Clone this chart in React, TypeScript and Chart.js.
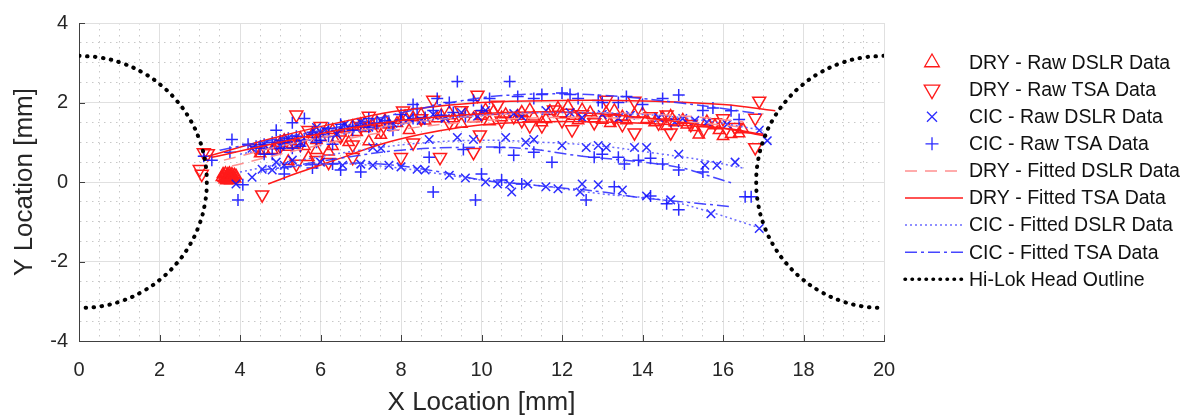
import React, { useEffect, useRef } from 'react';
import { Chart, registerables } from 'chart.js';

Chart.register(...registerables);

// ---------- tick labels ----------
const xTickLabels = ['0', '2', '4', '6', '8', '10', '12', '14', '16', '18', '20'];
const yTickLabels = ['-4', '-2', '0', '2', '4'];

// ---------- raw data [x, y] in mm ----------
const dryRawDslr: number[][] = [
  [3.55, 0.12], [3.6, 0.18], [3.62, 0.06], [3.66, 0.12], [3.7, 0.2], [3.72, 0.08], [3.75, 0.15],
  [3.78, 0.1], [3.8, 0.2], [3.84, 0.12], [3.88, 0.08], [3.68, 0.16],
  [3.58, 0.2], [3.64, 0.22], [3.7, 0.1], [3.74, 0.22], [3.82, 0.06], [3.86, 0.18], [3.9, 0.16],
  [3.6, 0.1], [3.66, 0.04], [3.76, 0.04], [3.8, 0.14], [3.72, 0.14],
  [4.6, 0.8], [4.9, 0.92], [5.1, 1.05], [5.3, 0.95], [5.5, 1.1], [5.8, 1.2], [6.0, 1.12], [6.3, 1.3],
  [6.5, 1.24], [6.8, 1.4], [7.1, 1.35], [7.4, 1.5], [7.7, 1.44], [8.0, 1.56], [8.3, 1.62], [8.6, 1.54],
  [9.0, 1.68], [9.3, 1.6], [9.6, 1.72], [10.0, 1.66], [10.3, 1.78], [10.6, 1.7], [11.0, 1.76], [11.3, 1.64],
  [11.7, 1.78], [12.0, 1.7], [12.15, 1.91], [12.5, 1.82], [12.8, 1.6], [13.1, 1.74], [13.5, 1.64], [13.8, 1.7],
  [14.1, 1.58], [14.5, 1.62], [14.8, 1.5], [15.1, 1.44], [15.4, 1.19], [15.6, 1.52], [15.9, 1.3], [16.0, 1.15],
  [16.2, 1.2], [16.5, 1.32], [5.2, 0.52], [5.7, 0.62], [6.2, 0.76], [7.2, 1.02], [8.2, 1.3], [9.5, 1.46],
  [11.5, 1.5], [13.2, 1.48], [14.6, 1.4], [10.2, 1.52], [12.4, 1.55],
  [4.5, 0.72], [4.8, 0.8], [5.0, 0.98], [5.2, 0.88], [5.4, 1.02], [5.6, 0.9], [5.9, 1.05], [6.1, 1.22],
  [6.4, 1.1], [6.6, 1.35], [6.9, 1.25], [7.0, 1.45], [7.3, 1.42], [7.6, 1.55], [7.9, 1.48], [8.1, 1.65],
  [8.5, 1.7], [8.9, 1.6], [9.2, 1.75], [9.8, 1.6], [10.1, 1.82], [10.5, 1.62], [10.9, 1.66], [11.2, 1.82],
  [11.6, 1.58], [11.9, 1.86], [12.3, 1.66], [12.7, 1.75], [13.0, 1.56], [13.3, 1.8], [13.6, 1.55], [14.0, 1.72],
  [14.3, 1.5], [14.7, 1.66], [15.0, 1.56], [15.3, 1.38], [15.8, 1.42], [16.4, 1.22], [6.3, 0.9], [6.7, 1.0],
  [7.5, 1.18], [5.9, 0.8],
];

const dryRawTsa: number[][] = [
  [3.1, 0.74], [3.2, 0.72], [3.0, 0.32], [3.05, 0.2], [4.55, -0.32], [5.4, 1.69], [5.4, 0.45], [5.9, 0.55],
  [5.7, 1.3], [6.8, 0.94], [6.8, 0.62], [7.2, 1.66], [8.05, 1.79], [8.0, 0.62], [8.3, 0.99], [8.8, 2.06],
  [8.97, 0.62], [9.8, 0.75], [9.96, 1.19], [9.9, 2.19], [10.4, 1.94], [10.5, 1.54], [11.2, 1.42], [11.5, 1.42],
  [12.25, 1.32], [13.1, 2.06], [13.8, 2.04], [13.8, 1.24], [14.4, 1.49], [14.6, 1.69], [14.7, 1.24], [16.9, 2.04],
  [16.8, 1.61], [16.8, 0.87], [6.0, 1.4], [7.5, 1.3], [9.2, 1.5], [10.8, 1.65], [12.0, 1.55], [12.8, 1.5],
  [13.3, 1.6], [15.2, 1.45], [15.8, 1.5], [16.3, 1.38], [5.0, 0.9], [4.4, 0.85], [11.8, 1.82], [9.5, 1.8],
  [7.0, 1.4], [8.5, 1.6], [10.0, 1.7], [11.0, 1.55], [12.5, 1.7], [13.5, 1.45], [14.2, 1.65], [15.5, 1.3],
  [16.0, 1.6], [5.5, 0.95], [6.5, 1.15], [6.2, 0.5],
];

const cicRawDslr: number[][] = [
  [4.3, 0.85], [4.6, 0.95], [5.2, 1.1], [5.9, 1.37], [6.1, 1.3], [6.6, 1.45], [7.0, 1.5], [7.5, 1.55],
  [8.2, 1.6], [8.8, 1.7], [9.5, 1.75], [10.1, 1.8], [10.8, 1.72], [11.6, 1.8], [12.2, 1.75], [13.0, 1.7],
  [13.7, 1.68], [14.4, 1.62], [15.0, 1.6], [15.6, 1.5], [16.1, 1.45], [16.9, 1.3], [17.1, 1.04],
  [4.3, 0.12], [4.55, 0.32], [4.9, 0.5], [5.3, 0.55], [6.55, 0.42], [7.3, 0.87], [7.5, 0.85], [8.7, 1.07],
  [9.4, 1.12], [9.8, 1.07], [10.6, 1.12], [11.1, 1.0], [11.3, 1.07], [12.0, 0.92], [12.6, 0.87], [12.9, 0.92],
  [13.1, 0.87], [13.8, 0.87], [14.1, 0.87], [14.9, 0.7], [15.55, 0.42], [15.85, 0.42], [16.3, 0.5],
  [3.9, -0.05], [7.3, 0.42], [7.7, 0.42], [8.4, 0.32], [9.2, 0.17], [10.1, 0.0], [10.4, -0.05], [10.7, -0.05],
  [10.75, -0.25], [11.15, -0.05], [11.6, -0.12], [11.9, -0.17], [12.5, -0.05], [12.45, -0.25], [12.9, -0.07],
  [13.5, -0.2], [14.1, -0.35], [14.7, -0.45], [15.7, -0.8], [16.9, -1.17],
  [5.0, 0.9], [5.5, 1.0], [6.4, 1.2], [7.2, 1.38], [7.8, 1.48], [8.5, 1.55], [9.1, 1.6], [9.9, 1.65],
  [11.0, 1.65], [12.5, 1.62], [13.4, 1.6], [14.8, 1.5], [15.3, 1.55], [4.8, 0.3], [5.1, 0.42], [6.0, 0.5],
  [7.0, 0.45], [8.0, 0.38], [8.6, 0.3], [9.6, 0.1],
];

const cicRawTsa: number[][] = [
  [3.1, 0.65], [3.8, 1.07], [3.75, 0.75], [4.5, 0.85], [4.9, 1.3], [5.1, 1.0], [5.3, 1.49], [5.6, 1.6],
  [5.8, 1.2], [6.2, 1.35], [6.5, 1.45], [6.8, 1.3], [7.2, 1.6], [7.6, 1.55], [8.0, 1.7], [8.4, 1.85],
  [8.8, 1.8], [9.2, 2.0], [9.4, 2.53], [9.8, 2.05], [10.2, 2.1], [10.7, 2.53], [10.9, 2.15], [11.5, 2.2],
  [12.0, 2.24], [12.4, 2.1], [12.9, 2.05], [13.4, 2.0], [14.0, 1.95], [14.9, 2.19], [15.5, 1.8], [15.75, 1.86],
  [16.2, 1.79], [16.4, 1.57], [5.0, 0.85], [5.5, 0.9], [6.0, 1.05], [6.3, 0.95], [4.8, 0.7],
  [4.07, -0.07], [5.1, 0.2], [7.0, 0.25], [8.7, 0.62], [9.55, 0.82], [10.45, 0.87], [10.8, 0.67], [11.3, 0.75],
  [11.75, 0.5], [12.8, 0.62], [13.0, 0.7], [13.4, 0.62], [13.55, 0.45], [13.9, 0.55], [14.2, 0.6], [14.5, 0.45],
  [14.9, 0.3], [15.5, 0.25], [16.55, -0.37], [16.7, -0.37], [6.3, 0.45], [6.5, 0.3],
  [3.95, -0.45], [8.8, -0.25], [9.85, -0.45], [10.0, 0.2], [10.5, 0.05], [11.0, -0.05], [12.6, -0.45],
  [13.3, -0.12], [14.2, -0.35], [14.9, -0.7], [14.6, -0.55], [5.8, 0.35],
  [4.4, 0.9], [4.6, 0.95], [4.8, 1.0], [5.0, 1.05], [5.2, 1.1], [5.4, 1.15], [5.6, 1.05], [5.8, 1.25],
  [6.0, 1.2], [6.2, 1.15], [6.4, 1.3], [6.6, 1.35], [6.8, 1.4], [7.0, 1.42], [7.2, 1.38], [7.4, 1.48],
  [7.7, 1.5], [8.0, 1.55], [8.3, 1.6], [8.6, 1.62], [9.0, 1.68], [9.3, 1.75], [9.6, 1.65], [10.0, 1.8],
  [5.3, 0.85], [4.6, 0.7], [5.9, 1.0], [7.8, 1.3], [3.3, 0.55], [4.2, 0.95],
  [8.3, 1.95], [8.9, 2.1], [11.3, 2.1], [12.2, 2.2], [13.0, 2.0], [13.6, 2.15], [14.5, 2.1],
];

// ---------- fitted curves ----------
const dryFitDslr: number[][][] = [
  [[3.6, 0.55], [5, 0.9], [7, 1.3], [9, 1.58], [11, 1.72], [13, 1.74], [15, 1.66], [16.5, 1.52]],
  [[3.8, 0.4], [5, 0.7], [7, 1.15], [9, 1.45], [11, 1.6], [13, 1.62], [15, 1.52], [16.5, 1.38]],
];
const dryFitTsa: number[][][] = [
  [[3.2, 0.65], [5, 1.15], [6.7, 1.55], [8, 1.8], [10, 2.0], [12, 2.05], [14, 2.04], [16, 1.95], [17.3, 1.79]],
  [[3.3, 0.62], [5, 1.0], [6.7, 1.35], [8, 1.55], [10, 1.72], [12, 1.76], [14, 1.62], [16, 1.35], [17.1, 1.15]],
  [[4.7, -0.05], [5.5, 0.25], [6.5, 0.6], [7.5, 0.95], [8.5, 1.2], [9.5, 1.38], [10.5, 1.48], [12, 1.52], [14, 1.48], [16, 1.35], [17, 1.2]],
];
const cicFitDslr: number[][][] = [
  [[4, 0.7], [6, 1.1], [8, 1.45], [10, 1.68], [12, 1.75], [14, 1.7], [15.5, 1.55], [17, 1.3]],
  [[4, 0.25], [5.5, 0.55], [7, 0.8], [8.5, 0.98], [10, 1.05], [11.5, 1.0], [13, 0.9], [14.5, 0.7], [15.5, 0.55], [16.5, 0.35]],
  [[4.5, 0.25], [6, 0.45], [7.5, 0.4], [9, 0.2], [10, 0.05], [11.5, -0.1], [13, -0.3], [14.5, -0.45], [15.5, -0.7], [16.9, -1.15]],
];
const cicFitTsa: number[][][] = [
  [[3.5, 0.8], [5, 1.1], [7, 1.5], [8.5, 1.85], [10, 2.12], [11, 2.2], [12, 2.22], [13, 2.18], [14, 2.1], [15, 1.98], [16, 1.85], [17, 1.7]],
  [[5, 0.35], [6.5, 0.6], [8, 0.8], [9.5, 0.87], [11, 0.85], [12.5, 0.65], [14, 0.5], [15, 0.35], [15.5, 0.2], [16.3, -0.05]],
  [[4.5, 0.3], [6, 0.45], [7.5, 0.45], [9, 0.25], [10, 0.05], [11, -0.05], [12, -0.15], [13, -0.25], [14, -0.4], [15, -0.5], [16.2, -0.62]],
];

// ---------- Hi-Lok head outline (r = 3.175 mm) ----------
const headLeft: number[][] = [
  [0, 3.175], [0.551, 3.127], [1.086, 2.984], [1.588, 2.75], [2.041, 2.432], [2.432, 2.041], [2.75, 1.588],
  [2.984, 1.086], [3.127, 0.551], [3.175, 0], [3.127, -0.551], [2.984, -1.086], [2.75, -1.588], [2.432, -2.041],
  [2.041, -2.432], [1.588, -2.75], [1.086, -2.984], [0.551, -3.127], [0, -3.175],
];
const headRight: number[][] = [
  [20, 3.175], [19.449, 3.127], [18.914, 2.984], [18.412, 2.75], [17.959, 2.432], [17.568, 2.041], [17.25, 1.588],
  [17.016, 1.086], [16.873, 0.551], [16.825, 0], [16.873, -0.551], [17.016, -1.086], [17.25, -1.588], [17.568, -2.041],
  [17.959, -2.432], [18.412, -2.75], [18.914, -2.984], [19.449, -3.127], [20, -3.175],
];

// ---------- styles ----------
const FONT = "'Liberation Sans', Arial, sans-serif";
const RED = '#ff1a1a';
const PINK = '#ff9090';
const BLUE = 'rgba(20,20,255,0.9)';
const LBLUE = 'rgba(90,90,255,0.9)';
const MBLUE = 'rgba(50,50,255,0.9)';
const DASH_DRY_DSLR = [12, 8];
const DASH_CIC_DSLR = [2, 3];
const DASH_CIC_TSA = [12, 4, 3, 4];
const DOTS = [0.5, 7.5];
const MARK_W = 1.5;

const toPts = (pairs: number[][]) => pairs.map(([x, y]) => ({ x, y }));
const isMajor = (v: number) => Math.abs(v / 2 - Math.round(v / 2)) < 1e-6;

const legendItems = [
  { label: 'DRY - Raw DSLR Data', kind: 'tri', color: RED },
  { label: 'DRY - Raw TSA Data', kind: 'tridown', color: RED },
  { label: 'CIC - Raw DSLR Data', kind: 'x', color: BLUE },
  { label: 'CIC - Raw TSA Data', kind: 'plus', color: BLUE },
  { label: 'DRY - Fitted DSLR Data', kind: 'line', color: PINK, dash: DASH_DRY_DSLR, width: 1.5 },
  { label: 'DRY - Fitted TSA Data', kind: 'line', color: RED, dash: [] as number[], width: 1.5 },
  { label: 'CIC - Fitted DSLR Data', kind: 'line', color: LBLUE, dash: DASH_CIC_DSLR, width: 1.5 },
  { label: 'CIC - Fitted TSA Data', kind: 'line', color: MBLUE, dash: DASH_CIC_TSA, width: 1.5 },
  { label: 'Hi-Lok Head Outline', kind: 'line', color: '#000', dash: [0.5, 6.5], width: 3.5, round: true },
];

function drawMarker(ctx: CanvasRenderingContext2D, kind: string, x: number, y: number, color: string) {
  ctx.save();
  ctx.strokeStyle = color;
  ctx.lineWidth = 1.3;
  ctx.setLineDash([]);
  ctx.beginPath();
  if (kind === 'tri' || kind === 'tridown') {
    const r = kind === 'tri' ? 8.5 : 9;
    let rad = kind === 'tri' ? 0 : Math.PI;
    ctx.moveTo(x + Math.sin(rad) * r, y - Math.cos(rad) * r);
    rad += (2 * Math.PI) / 3;
    ctx.lineTo(x + Math.sin(rad) * r, y - Math.cos(rad) * r);
    rad += (2 * Math.PI) / 3;
    ctx.lineTo(x + Math.sin(rad) * r, y - Math.cos(rad) * r);
    ctx.closePath();
  } else if (kind === 'x') {
    const d = 5;
    ctx.moveTo(x - d, y - d); ctx.lineTo(x + d, y + d);
    ctx.moveTo(x - d, y + d); ctx.lineTo(x + d, y - d);
  } else {
    const d = 6.5;
    ctx.moveTo(x - d, y); ctx.lineTo(x + d, y);
    ctx.moveTo(x, y - d); ctx.lineTo(x, y + d);
  }
  ctx.stroke();
  ctx.restore();
}

const overlayPlugin = {
  id: 'overlay',
  afterDraw(chart: any) {
    const ctx: CanvasRenderingContext2D = chart.ctx;
    const xs = chart.scales.x;
    const ys = chart.scales.y;
    const a = chart.chartArea;
    ctx.save();
    // inward major ticks
    ctx.strokeStyle = '#404040';
    ctx.lineWidth = 1;
    xTickLabels.forEach((t) => {
      const px = Math.round(xs.getPixelForValue(Number(t))) + 0.5;
      ctx.beginPath();
      ctx.moveTo(px, a.bottom);
      ctx.lineTo(px, a.bottom - 6);
      ctx.stroke();
    });
    yTickLabels.forEach((t) => {
      const py = Math.round(ys.getPixelForValue(Number(t))) + 0.5;
      ctx.beginPath();
      ctx.moveTo(a.left, py);
      ctx.lineTo(a.left + 6, py);
      ctx.stroke();
    });
    // axis titles
    ctx.fillStyle = '#262626';
    ctx.font = `26px ${FONT}`;
    ctx.textAlign = 'center';
    ctx.textBaseline = 'middle';
    ctx.fillText('X Location [mm]', (a.left + a.right) / 2, 403);
    ctx.save();
    ctx.translate(25, (a.top + a.bottom) / 2);
    ctx.rotate(-Math.PI / 2);
    ctx.fillText('Y Location [mm]', 0, 0);
    ctx.restore();
    // legend
    ctx.font = `19.5px ${FONT}`;
    ctx.textAlign = 'left';
    ctx.textBaseline = 'middle';
    legendItems.forEach((it, i) => {
      const y = 62.5 + i * 27.1;
      if (it.kind === 'line') {
        ctx.save();
        ctx.strokeStyle = it.color;
        ctx.lineWidth = it.width as number;
        ctx.setLineDash(it.dash as number[]);
        ctx.lineCap = it.round ? 'round' : 'butt';
        ctx.beginPath();
        ctx.moveTo(905, y);
        ctx.lineTo(963, y);
        ctx.stroke();
        ctx.restore();
      } else {
        drawMarker(ctx, it.kind, 932, y, it.color);
      }
      ctx.fillStyle = '#111';
      ctx.fillText(it.label, 969, y + 1);
    });
    ctx.restore();
  },
};

function lineDs(pairs: number[][], color: string, dash: number[], width: number, order: number) {
  return {
    data: toPts(pairs),
    showLine: true,
    borderColor: color,
    borderWidth: width,
    borderDash: dash,
    pointRadius: 0,
    tension: 0.4,
    order,
  };
}

export default function App() {
  const ref = useRef<HTMLCanvasElement>(null);
  useEffect(() => {
    const datasets: any[] = [];
    datasets.push({ ...lineDs(headLeft, '#000', DOTS, 4, 0), borderCapStyle: 'round' });
    datasets.push({ ...lineDs(headRight, '#000', DOTS, 4, 0), borderCapStyle: 'round' });
    cicFitTsa.forEach((c) => datasets.push(lineDs(c, MBLUE, DASH_CIC_TSA, 1.5, 1)));
    cicFitDslr.forEach((c) => datasets.push(lineDs(c, LBLUE, DASH_CIC_DSLR, 1.5, 2)));
    dryFitTsa.forEach((c) => datasets.push(lineDs(c, RED, [], 1.5, 3)));
    dryFitDslr.forEach((c) => datasets.push(lineDs(c, PINK, DASH_DRY_DSLR, 1.5, 4)));
    datasets.push({
      data: toPts(cicRawTsa), pointStyle: 'cross', pointRadius: 6, pointBorderColor: BLUE,
      pointBorderWidth: MARK_W, pointBackgroundColor: 'rgba(0,0,0,0)', showLine: false, order: 5,
    });
    datasets.push({
      data: toPts(cicRawDslr), pointStyle: 'crossRot', pointRadius: 6, pointBorderColor: BLUE,
      pointBorderWidth: MARK_W, pointBackgroundColor: 'rgba(0,0,0,0)', showLine: false, order: 6,
    });
    datasets.push({
      data: toPts(dryRawTsa), pointStyle: 'triangle', pointRotation: 180, pointRadius: 7.5, pointBorderColor: RED,
      pointBorderWidth: MARK_W, pointBackgroundColor: 'rgba(0,0,0,0)', showLine: false, order: 7,
    });
    datasets.push({
      data: toPts(dryRawDslr), pointStyle: 'triangle', pointRadius: 6.5, pointBorderColor: RED,
      pointBorderWidth: MARK_W, pointBackgroundColor: 'rgba(0,0,0,0)', showLine: false, order: 8,
    });

    const tickFont = { family: FONT, size: 20 };
    const chart = new Chart(ref.current as HTMLCanvasElement, {
      type: 'scatter',
      data: { datasets },
      plugins: [overlayPlugin],
      options: {
        animation: false,
        responsive: false,
        events: [],
        layout: { padding: { top: 19, right: 315, left: 0, bottom: 0 } },
        plugins: { legend: { display: false }, tooltip: { enabled: false } },
        scales: {
          x: {
            type: 'linear', min: 0, max: 20,
            ticks: {
              stepSize: 0.5, autoSkip: false, maxRotation: 0, minRotation: 0, padding: 17,
              color: '#262626', font: tickFont,
              callback: (v: any) => (isMajor(Number(v)) ? xTickLabels[Math.round(Number(v) / 2)] : ''),
            },
            grid: {
              drawTicks: false,
              color: (c: any) => (c.tick && !isMajor(c.tick.value) ? '#c8c8c8' : '#e0e0e0'),
              lineWidth: 1,
            },
            border: {
              color: '#404040', width: 1,
              dash: (c: any) => (c.tick && !isMajor(c.tick.value) ? [1.5, 4.5] : []),
            },
            afterFit: (s: any) => { s.height = 77; },
          },
          y: {
            type: 'linear', min: -4, max: 4,
            ticks: {
              stepSize: 0.5, autoSkip: false, padding: 11, color: '#262626', font: tickFont,
              callback: (v: any) => (isMajor(Number(v)) ? yTickLabels[Math.round((Number(v) + 4) / 2)] : ''),
            },
            grid: {
              drawTicks: false,
              color: (c: any) => (c.tick && !isMajor(c.tick.value) ? '#c8c8c8' : '#e0e0e0'),
              lineWidth: 1,
            },
            border: {
              color: '#404040', width: 1,
              dash: (c: any) => (c.tick && !isMajor(c.tick.value) ? [1.5, 4.5] : []),
            },
            afterFit: (s: any) => { s.width = 79; },
          },
        },
      } as any,
    });
    return () => chart.destroy();
  }, []);

  return (
    <div style={{ position: 'absolute', left: 0, top: 0, width: 1199, height: 418, background: '#fff' }}>
      <canvas ref={ref} width={1199} height={418} style={{ width: 1199, height: 418, display: 'block' }} />
    </div>
  );
}
